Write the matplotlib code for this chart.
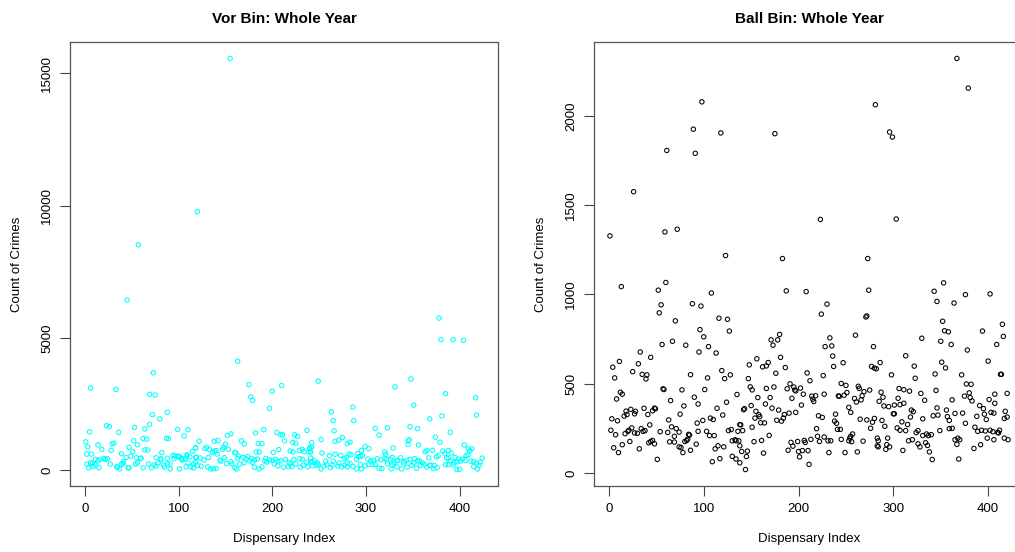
import matplotlib
matplotlib.use("Agg")
from matplotlib import pyplot as plt

plt.rcParams['font.family'] = ['Liberation Sans', 'DejaVu Sans']

# Vor Bin: (dispensary index, count of crimes)
vor_index = [155, 120, 57, 45, 163, 73,
             6, 33, 69, 75, 88, 72, 80, 69, 23, 26, 53, 64, 99, 110, 5, 36, 106, 87, 89, 62, 66, 1, 52, 31,
             29, 14, 56, 3, 18, 47, 64, 67, 118, 28, 51, 7, 2, 39, 82, 115, 112, 49, 60, 55, 44, 76, 88, 94,
             100, 109, 104, 81, 95, 8, 16, 20, 22, 24, 14, 11, 6, 11, 9, 4, 15, 27, 35, 39, 41, 41, 47, 46,
             34, 37, 54, 56, 59, 62, 68, 71, 74, 76, 78, 81, 84, 85, 88, 91, 91, 96, 99, 101, 103, 104, 107,
             109, 110, 113, 116, 118, 118, 101, 108, 2,
             175, 210, 200, 177, 179, 197, 182, 191, 205, 209, 211, 224, 227, 237, 152, 156, 167, 170, 185,
             189, 213, 222, 225, 122, 138, 142, 150, 118, 128, 130, 133, 138, 140, 147, 148, 153, 160, 161,
             183, 186, 201, 207, 219, 222, 229, 232, 234, 239, 240, 242, 119, 123, 127, 132, 136, 141, 144,
             145, 149, 156, 163, 164, 169, 172, 174, 178, 176, 181, 184, 192, 193, 197, 203, 206, 209, 214,
             218, 223, 229, 232, 237, 241, 243, 116, 120, 124, 131, 134, 137, 140, 151, 157, 160, 162, 165,
             170, 179, 181, 186, 189, 194, 200, 202, 206, 212, 217, 219, 221, 225, 230, 233, 238, 241,
             249, 348, 331, 286, 351, 263, 265, 287, 266, 310, 323, 314, 347, 355, 368, 252, 267, 271, 275,
             280, 283, 345, 346, 345, 356, 242, 240, 241, 253, 261, 267, 273, 282, 284, 291, 295, 299, 303,
             292, 296, 320, 321, 329, 328, 334, 337, 343, 352, 357, 363, 365, 360, 367, 245, 248, 249, 257,
             265, 271, 277, 279, 280, 290, 294, 302, 305, 308, 312, 316, 320, 326, 333, 341, 347, 351, 355,
             243, 247, 252, 255, 258, 262, 264, 270, 274, 277, 280, 283, 286, 290, 294, 295, 299, 303, 307,
             310, 314, 317, 322, 323, 328, 327, 330, 333, 338, 340, 344, 349, 354, 358, 362, 365, 368,
             369, 371, 372, 373, 374, 375, 376, 377, 378, 379,
             380, 381, 382, 384, 385, 385, 386, 388, 388, 388,
             390, 391, 390, 393, 393, 394, 395, 397, 397, 399,
             400, 401, 403, 404, 405, 406, 407, 409, 409, 411,
             412, 413, 415, 415, 417, 418, 418, 419, 421, 422,
             424]
vor_count = [15560, 9770, 8520, 6430, 4120, 3680,
             3110, 3050, 2870, 2840, 2190, 2100, 1940, 1730, 1680, 1645, 1620, 1560, 1540, 1530, 1450, 1430,
             1300, 1210, 1190, 1200, 1170, 1070, 1120, 1020, 1000, 955, 960, 880, 790, 865, 765, 765, 855,
             750, 700, 610, 610, 625, 665, 715, 510, 535, 460, 470, 485, 470, 450, 560, 510, 585, 410, 385,
             435, 255, 410, 445, 410, 435, 355, 410, 280, 205, 140, 90, 100, 230, 115, 230, 320, 255, 90,
             90, 125, 50, 230, 280, 435, 90, 230, 90, 205, 155, 270, 435, 190, 115, 240, 240, 50, 535, 535,
             510, 445, 385, 445, 535, 280, 125, 90, 295, 485, 50, 125, 230,
             3230, 3200, 2985, 2770, 2640, 2335, 1405, 1530, 1425, 1340, 1340, 1340, 1275, 1505, 1315, 1375,
             1110, 995, 1005, 1005, 1110, 1045, 1020, 1095, 1095, 1120, 980, 840, 815, 865, 780, 715, 740,
             790, 865, 790, 665, 665, 690, 690, 675, 780, 725, 690, 750, 790, 700, 690, 840, 880, 485, 460,
             385, 485, 665, 610, 385, 345, 470, 320, 445, 535, 485, 435, 520, 445, 355, 395, 420, 345, 445,
             395, 410, 345, 355, 410, 295, 395, 435, 410, 305, 460, 305, 230, 180, 155, 125, 50, 50, 65, 255,
             240, 90, 50, 230, 280, 295, 115, 50, 125, 305, 370, 240, 165, 115, 140, 230, 140, 240, 115,
             190, 125, 320,
             3365, 3445, 3150, 2385, 2460, 2205, 1875, 1875, 1490, 1580, 1605, 1325, 1645, 1570, 1940, 1160,
             1095, 1135, 1235, 1005, 1060, 1110, 1150, 970, 955, 1045, 815, 690, 650, 550, 600, 560, 610,
             585, 625, 750, 895, 815, 510, 550, 690, 600, 840, 485, 370, 470, 370, 435, 355, 700, 750, 280,
             470, 370, 280, 215, 345, 345, 270, 435, 485, 280, 410, 535, 420, 345, 370, 435, 395, 445, 420,
             355, 320, 410, 270, 355, 165, 190, 50, 155, 205, 100, 190, 155, 125, 190, 125, 255, 140, 50,
             215, 50, 165, 215, 230, 215, 75, 65, 410, 240, 205, 50, 270, 125, 50, 270, 115, 190, 75, 190,
             215, 115, 190,
             180, 753, 60, 180, 1250, 500, 100, 547, 5750, 1060,
             4935, 2050, 727, 624, 2895, 205, 460, 740, 460, 215,
             1430, 650, 345, 4935, 205, 280, 485, 320, 25, 420,
             40, 345, 420, 4910, 955, 370, 560, 803, 575, 740,
             345, 815, 330, 140, 2740, 2080, 270, 50, 180, 305,
             460]

# Ball Bin: (dispensary index, count of crimes)
ball_index = [98, 89, 118, 61, 91, 26, 1, 59, 72, 123, 60, 13,
              281, 175, 223, 183, 273, 367, 379, 296, 299, 303, 353,
              52, 108, 55, 53, 88, 97, 70, 116, 125, 127, 96, 100, 56, 67, 81, 105, 95, 113, 33, 44, 11, 31,
              4, 25, 35, 40, 39, 6, 86, 119, 128, 122, 104, 12, 14, 8, 57, 58, 77, 101, 90, 135, 65, 94, 124,
              79, 114, 18, 23, 28, 37, 48, 49, 46, 16, 19, 27, 41, 75, 120, 107, 110, 3, 9, 63, 99, 93, 43,
              138, 2, 7, 17, 20, 21, 24, 27, 30, 34, 36, 38, 54, 62, 66, 69, 71, 74, 84, 85, 82, 83, 94, 103,
              106, 111, 126, 129, 136, 130, 133, 134, 22, 14, 5, 10, 32, 42, 44, 46, 48, 64, 69, 74, 76, 78,
              80, 86, 92, 112, 115, 121, 109, 117, 130, 134, 138, 51, 144,
              187, 208, 274, 230, 224, 271, 272, 180, 171, 178, 173, 233, 228, 235, 260, 279, 181, 236, 156,
              168, 148, 162, 166, 186, 237, 247, 277, 280, 176, 209, 226, 147, 212, 191, 149, 151, 166, 174,
              188, 195, 202, 196, 197, 245, 250, 263, 264, 275, 269, 205, 214, 218, 227, 242, 243, 248, 251,
              267, 157, 170, 193, 215, 216, 259, 261, 266, 165, 150, 203, 143, 142, 172, 179, 155, 158, 190,
              197, 185, 253, 255, 239, 221, 225, 154, 159, 184, 177, 182, 160, 164, 238, 240, 265, 272, 278,
              280, 139, 141, 151, 219, 241, 244, 276, 169, 220, 227, 255, 257, 137, 138, 140, 146, 145, 153,
              161, 163, 192, 194, 189, 199, 200, 201, 204, 206, 207, 210, 213, 211, 222, 231, 234, 232, 245,
              249, 253, 256, 254, 262, 268, 283, 283,
              343, 346, 364, 376, 402, 352, 354, 358, 415, 416, 394, 330, 350, 361, 409, 378, 313, 400, 286,
              282, 351, 355, 322, 298, 323, 344, 372, 413, 414, 377, 382, 306, 311, 317, 287, 285, 289, 329,
              345, 420, 407, 380, 375, 381, 383, 305, 333, 362, 401, 290, 295, 301, 307, 311, 407, 391, 395,
              346, 319, 321, 356, 300, 301, 365, 373, 396, 403, 406, 418, 342, 347, 357, 388, 318, 417, 420,
              288, 331, 359, 398, 309, 315, 376, 291, 304, 307, 313, 349, 359, 362, 386, 389, 393, 397, 402,
              405, 410, 412, 324, 326, 331, 335, 337, 340, 294, 284, 284, 292, 293, 296, 310, 316, 320, 326,
              328, 334, 336, 338, 341, 365, 368, 370, 367, 369, 385, 392, 399, 406, 411, 417, 421]
ball_count = [2078, 1925, 1904, 1806, 1790, 1575, 1328, 1350, 1365, 1218, 1067, 1044,
              2062, 1900, 1420, 1201, 1201, 2321, 2155, 1909, 1881, 1422, 1065,
              1024, 1008, 942, 897, 948, 935, 852, 867, 861, 795, 803, 763, 720, 738, 716, 708, 678, 672, 678,
              648, 625, 612, 593, 568, 553, 550, 527, 533, 551, 574, 550, 529, 533, 453, 442, 415, 472, 468,
              466, 468, 425, 440, 406, 387, 397, 376, 363, 347, 357, 346, 363, 364, 360, 349, 319, 328, 332,
              328, 330, 325, 308, 300, 304, 293, 298, 295, 280, 270, 272, 240, 215, 221, 234, 240, 253, 225,
              223, 249, 234, 238, 232, 228, 259, 206, 249, 230, 217, 213, 183, 190, 234, 234, 210, 210, 238,
              244, 234, 181, 187, 181, 177, 159, 142, 115, 136, 170, 177, 183, 164, 175, 174, 147, 143, 115,
              177, 128, 162, 136, 153, 147, 64, 81, 94, 79, 58, 77, 20,
              1020, 1016, 1024, 946, 890, 874, 880, 776, 746, 746, 716, 757, 708, 712, 772, 708, 648, 655,
              640, 619, 606, 595, 600, 591, 597, 618, 597, 588, 559, 561, 546, 529, 517, 500, 483, 466, 474,
              482, 472, 482, 476, 465, 460, 502, 491, 486, 474, 465, 456, 442, 431, 433, 442, 432, 430, 436,
              451, 433, 423, 423, 419, 414, 401, 418, 398, 410, 387, 378, 381, 361, 355, 364, 353, 346, 327,
              336, 340, 328, 368, 340, 330, 321, 312, 308, 316, 308, 296, 291, 282, 281, 291, 279, 302, 298,
              285, 306, 270, 238, 257, 249, 245, 245, 251, 211, 206, 202, 206, 219, 181, 153, 121, 123, 93,
              176, 183, 112, 172, 151, 128, 177, 121, 91, 126, 183, 172, 126, 189, 49, 177, 181, 181, 115,
              189, 115, 181, 176, 196, 119, 179, 153, 196,
              1018, 961, 952, 999, 1003, 850, 797, 791, 833, 765, 795, 755, 738, 720, 720, 689, 657, 627, 619,
              584, 621, 589, 599, 550, 531, 555, 550, 553, 553, 499, 497, 474, 467, 459, 453, 402, 425, 446,
              463, 446, 442, 449, 431, 423, 404, 419, 408, 410, 412, 376, 372, 381, 383, 391, 391, 378, 361,
              365, 353, 344, 353, 332, 332, 334, 336, 330, 340, 336, 346, 321, 325, 316, 318, 314, 306, 314,
              295, 304, 295, 300, 287, 272, 279, 262, 253, 240, 238, 238, 249, 251, 257, 234, 240, 236, 240,
              232, 228, 240, 227, 238, 210, 219, 210, 215, 196, 181, 147, 133, 159, 147, 127, 181, 187, 164,
              147, 170, 155, 119, 76, 187, 196, 187, 161, 79, 138, 159, 196, 187, 225, 196, 187]

fig = plt.figure(figsize=(10.15, 5.52), dpi=100)
W, H = 1015, 552


def r_panel(rect, idx, cnt, color, title, yticks):
    ax = fig.add_axes([rect[0] / W, 1 - rect[3] / H, (rect[2] - rect[0]) / W, (rect[3] - rect[1]) / H])
    ax.scatter(idx, cnt, s=10, facecolors='none', edgecolors=color, linewidths=0.75)
    ax.margins(x=0.04, y=0.04)
    ax.set_xticks([0, 100, 200, 300, 400])
    ax.set_yticks(yticks)
    ax.set_yticklabels([str(t) for t in yticks], rotation=90, va='center')
    ax.tick_params(direction='out', length=7, width=0.8, labelsize=9.5, color='#444444', pad=5)
    for sp in ax.spines.values():
        sp.set_color('#555555')
        sp.set_linewidth(0.9)
    ax.set_title(title, fontsize=11, fontweight='bold', pad=14)
    ax.set_xlabel('Dispensary Index', fontsize=9.5, labelpad=13)
    ax.set_ylabel('Count of Crimes', fontsize=9.5, labelpad=13)
    return ax


r_panel((70, 42, 498, 486), vor_index, vor_count, 'cyan', 'Vor Bin: Whole Year',
        [0, 5000, 10000, 15000])
r_panel((594, 42, 1024, 486), ball_index, ball_count, 'black', 'Ball Bin: Whole Year',
        [0, 500, 1000, 1500, 2000])

fig.savefig('out.png', dpi=100)
